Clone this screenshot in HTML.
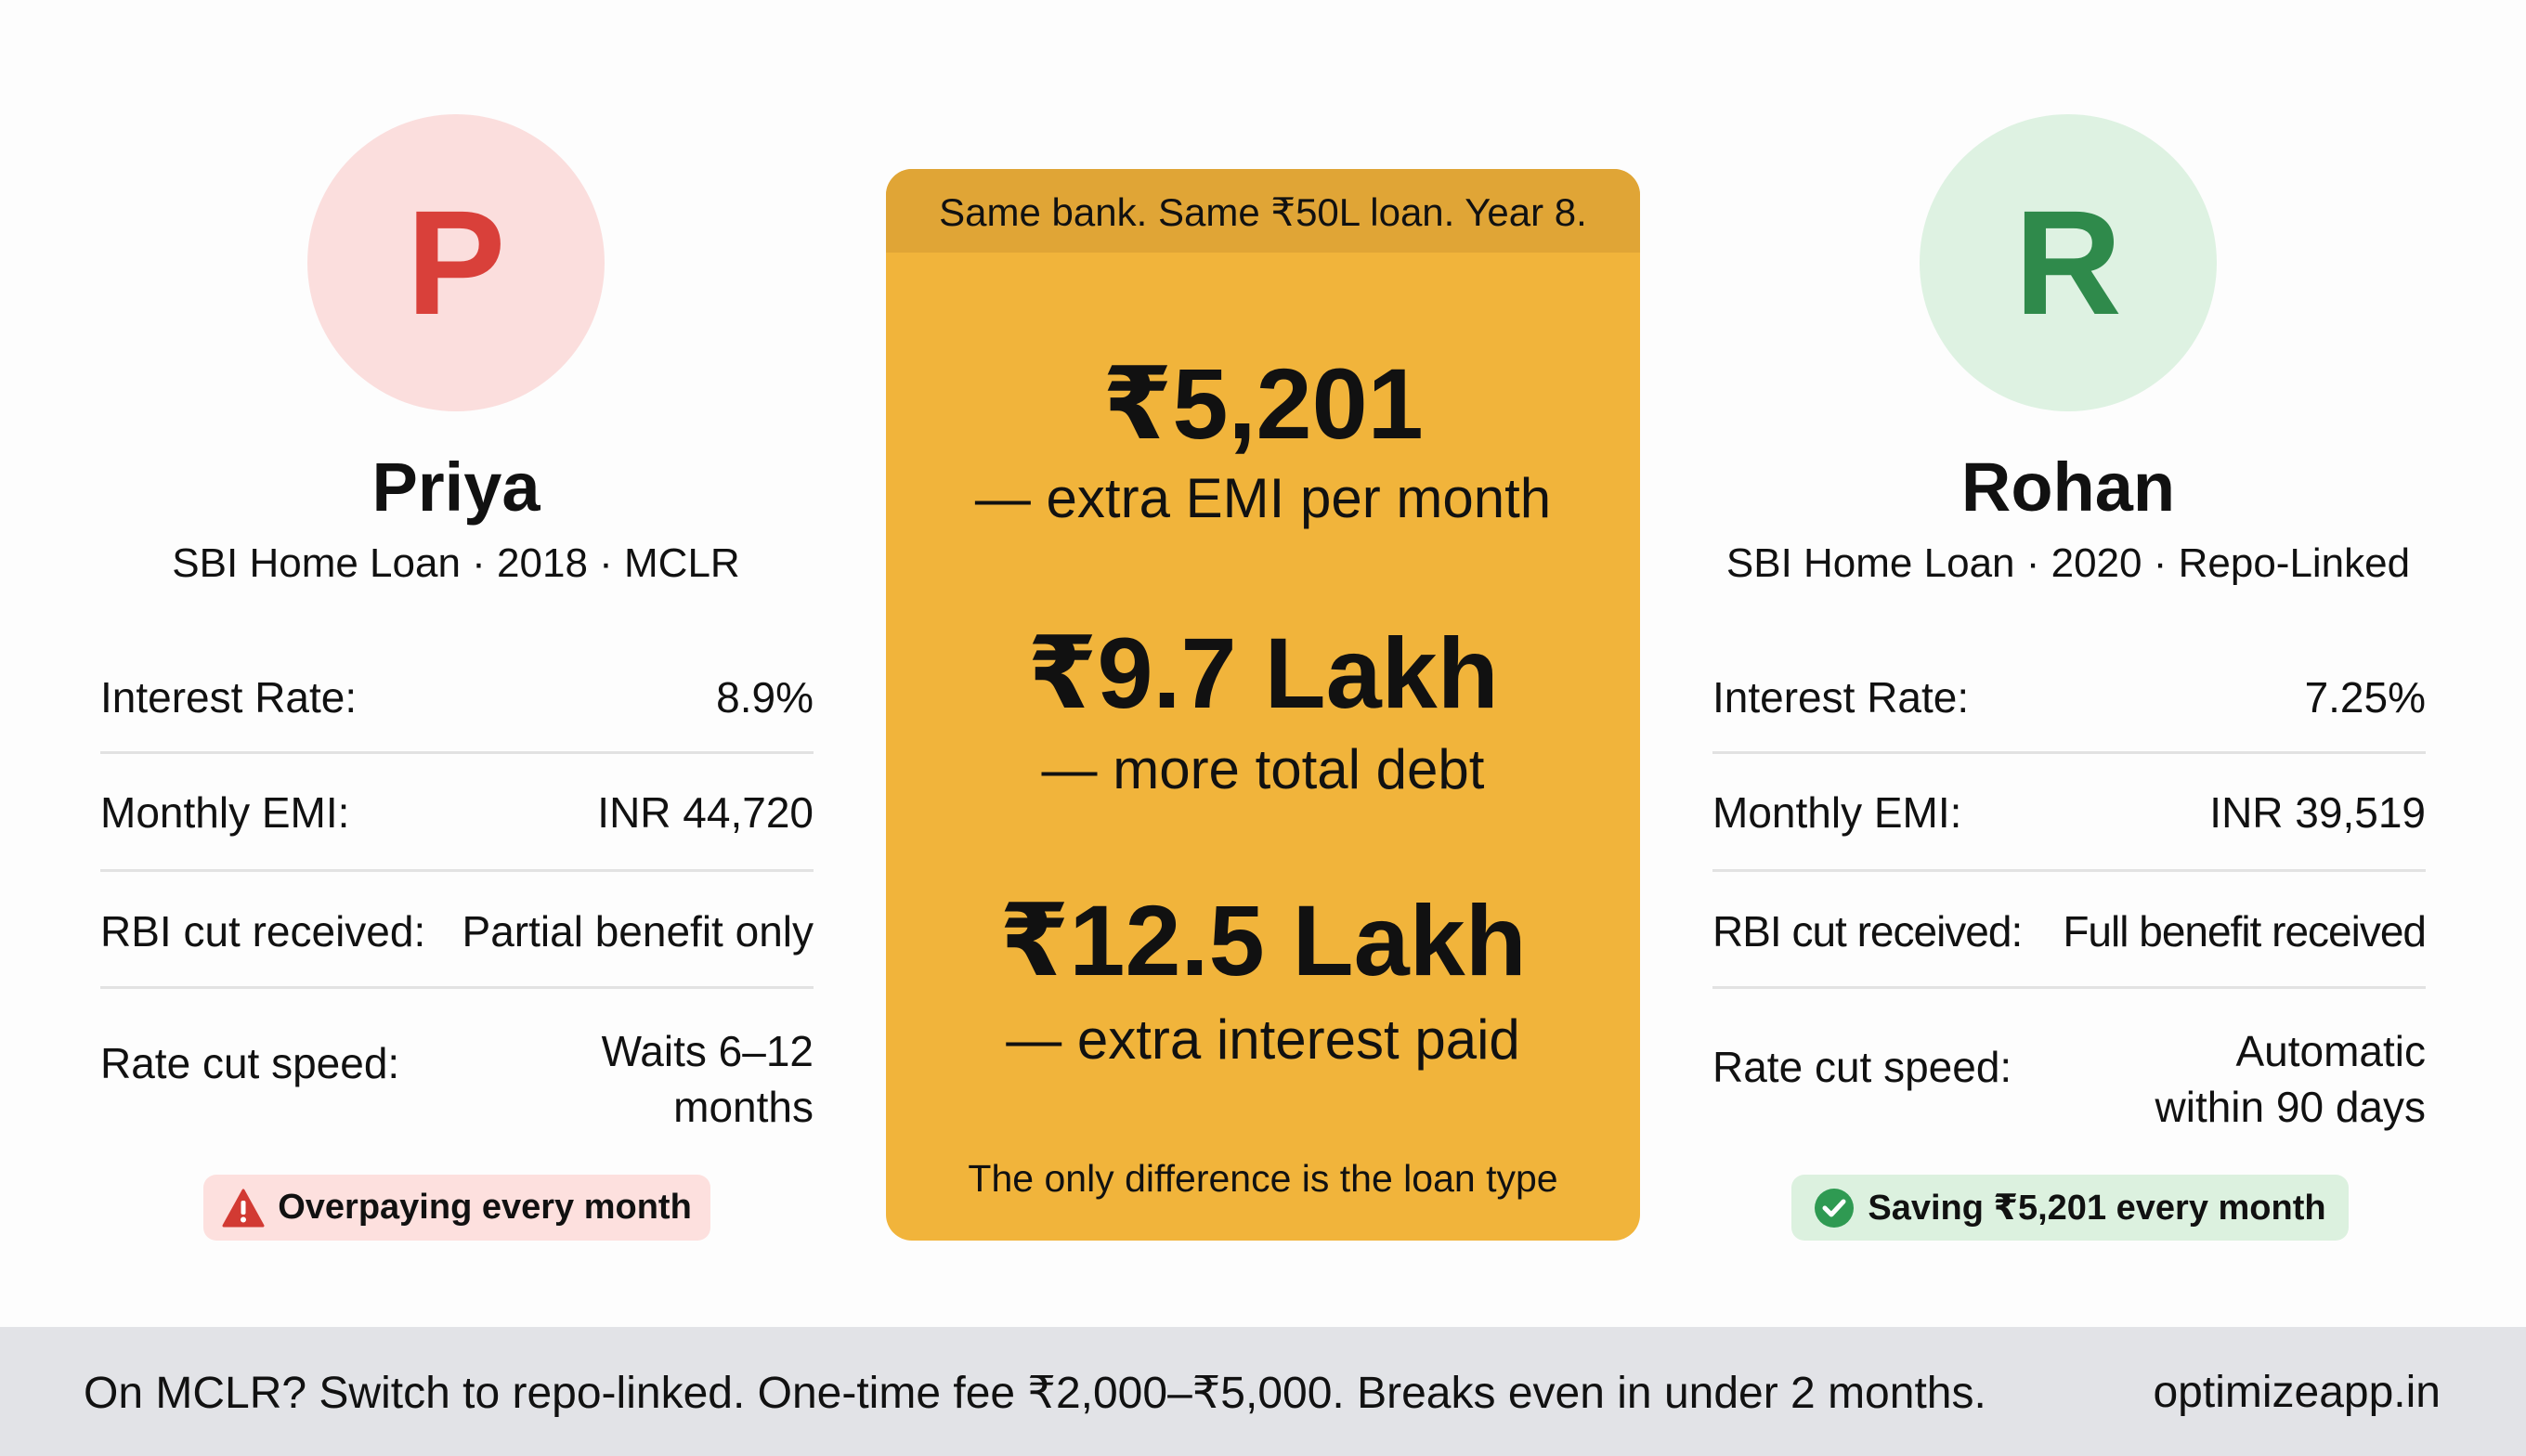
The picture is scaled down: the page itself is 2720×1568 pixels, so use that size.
<!DOCTYPE html>
<html><head><meta charset="utf-8"><style>
*{margin:0;padding:0;box-sizing:border-box}
body{width:2720px;height:1568px;background:#fdfdfd;position:relative;overflow:hidden;font-family:"Liberation Sans","DejaVu Sans",sans-serif;color:#111}
.a{position:absolute;white-space:nowrap}
.c{transform:translateX(-50%)}
.circ{position:absolute;width:320px;height:320px;border-radius:50%;display:flex;align-items:center;justify-content:center;font-weight:bold;font-size:160px}
.line{position:absolute;height:3px;background:#e2e2e2}
.row{font-size:46px}
.card{position:absolute;left:954px;top:182px;width:812px;height:1154px;border-radius:28px;background:#f1b43b;overflow:hidden}
.hdr{position:absolute;left:0;top:0;width:100%;height:90px;background:#e0a536;font-size:42px;text-align:center;line-height:94px}
.big{font-weight:bold;font-size:108px;width:100%;text-align:center;left:0}
.sub{font-size:60px;width:100%;text-align:center;left:0}
.badge{position:absolute;height:71px;border-radius:14px;font-size:38px;font-weight:bold;display:flex;align-items:center;justify-content:center;gap:14px}
</style></head><body>
<div class="circ" style="left:331px;top:123px;background:#fbdedd;color:#d9403a">P</div>
<div class="circ" style="left:2067px;top:123px;background:#def2e2;color:#2f8a4b">R</div>
<div class="a c" style="left:491px;top:482px;font-size:74px;font-weight:bold">Priya</div>
<div class="a c" style="left:2227px;top:482px;font-size:74px;font-weight:bold">Rohan</div>
<div class="a c" style="left:491px;top:582px;font-size:44px">SBI Home Loan · 2018 · MCLR</div>
<div class="a c" style="left:2227px;top:582px;font-size:44px">SBI Home Loan · 2020 · Repo-Linked</div>

<div class="a row" style="left:108px;top:724px">Interest Rate:</div>
<div class="a row" style="right:1844px;top:724px">8.9%</div>
<div class="line" style="left:108px;width:768px;top:809px"></div>
<div class="a row" style="left:108px;top:848px">Monthly EMI:</div>
<div class="a row" style="right:1844px;top:848px">INR 44,720</div>
<div class="line" style="left:108px;width:768px;top:936px"></div>
<div class="a row" style="left:108px;top:976px">RBI cut received:</div>
<div class="a row" style="right:1844px;top:976px">Partial benefit only</div>
<div class="line" style="left:108px;width:768px;top:1062px"></div>
<div class="a row" style="left:108px;top:1118px">Rate cut speed:</div>
<div class="a row" style="right:1844px;top:1102px;text-align:right;line-height:60px">Waits 6–12<br>months</div>
<div class="badge" style="left:219px;top:1265px;width:546px;background:#fde0de"><svg width="46" height="42" viewBox="0 0 46 42"><path d="M23 2 L44 40 L2 40 Z" fill="#d23a33" stroke="#d23a33" stroke-width="3" stroke-linejoin="round"/><rect x="20.5" y="13" width="5" height="15" rx="2" fill="#fff"/><circle cx="23" cy="33.5" r="3" fill="#fff"/></svg><span>Overpaying every month</span></div>

<div class="a row" style="left:1844px;top:724px">Interest Rate:</div>
<div class="a row" style="right:108px;top:724px">7.25%</div>
<div class="line" style="left:1844px;width:768px;top:809px"></div>
<div class="a row" style="left:1844px;top:848px">Monthly EMI:</div>
<div class="a row" style="right:108px;top:848px">INR 39,519</div>
<div class="line" style="left:1844px;width:768px;top:936px"></div>
<div class="a row" style="left:1844px;top:976px;letter-spacing:-1px">RBI cut received:</div>
<div class="a row" style="right:108px;top:976px;letter-spacing:-1px">Full benefit received</div>
<div class="line" style="left:1844px;width:768px;top:1062px"></div>
<div class="a row" style="left:1844px;top:1122px">Rate cut speed:</div>
<div class="a row" style="right:108px;top:1102px;text-align:right;line-height:60px">Automatic<br>within 90 days</div>
<div class="badge" style="left:1929px;top:1265px;width:600px;background:#dcf1df"><svg width="44" height="44" viewBox="0 0 44 44"><circle cx="22" cy="22" r="21" fill="#2f9a52"/><path d="M12 22 L19 29 L32 15" stroke="#fff" stroke-width="5" fill="none" stroke-linecap="round" stroke-linejoin="round"/></svg><span>Saving ₹5,201 every month</span></div>

<div class="card">
<div class="hdr">Same bank. Same ₹50L loan. Year 8.</div>
<div class="a big" style="top:190px">₹5,201</div>
<div class="a sub" style="top:320px">— extra EMI per month</div>
<div class="a big" style="top:480px">₹9.7 Lakh</div>
<div class="a sub" style="top:612px">— more total debt</div>
<div class="a big" style="top:768px">₹12.5 Lakh</div>
<div class="a sub" style="top:903px">— extra interest paid</div>
<div class="a sub" style="top:1064px;font-size:41px">The only difference is the loan type</div>
</div>

<div style="position:absolute;left:0;top:1429px;width:2720px;height:139px;background:#e2e3e7"></div>
<div class="a" style="left:90px;top:1472px;font-size:48px">On MCLR? Switch to repo-linked. One-time fee ₹2,000–₹5,000. Breaks even in under 2 months.</div>
<div class="a" style="right:92px;top:1472px;font-size:48px">optimizeapp.in</div>
</body></html>
